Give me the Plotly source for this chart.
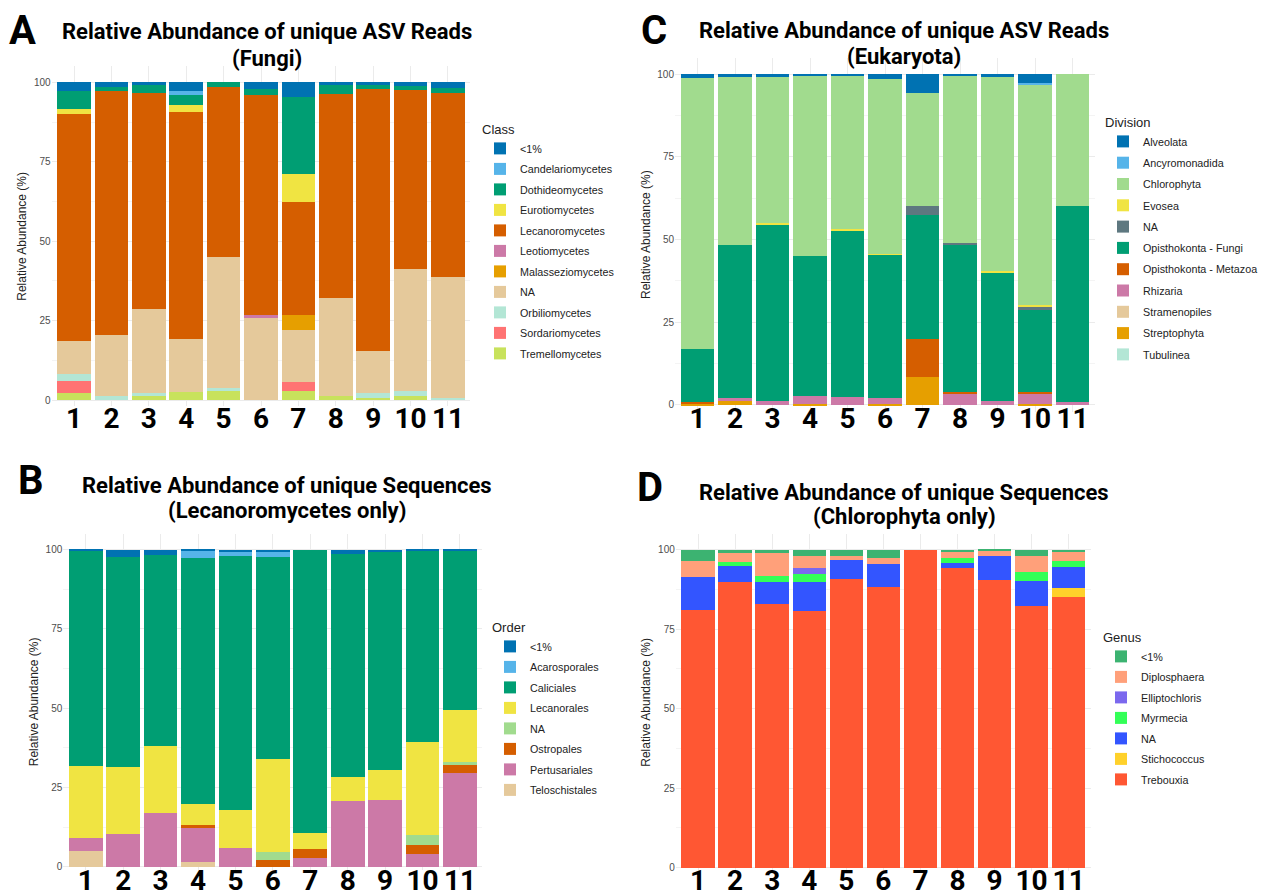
import plotly.graph_objects as go

W, H = 1261, 893
samples = [str(i) for i in range(1, 12)]

# ---------------- Panel A: Fungi, Class ----------------
A_classes = ["<1%", "Candelariomycetes", "Dothideomycetes", "Eurotiomycetes", "Lecanoromycetes",
             "Leotiomycetes", "Malasseziomycetes", "NA", "Orbiliomycetes", "Sordariomycetes", "Tremellomycetes"]
A_lt1 = [2.8, 1.4, 0.8, 2.6, 0, 2.2, 4.5, 0.8, 0.8, 1.1, 1.8]
A_candelario = [0, 0, 0, 1.4, 0, 0, 0, 0, 0, 0, 0]
A_dothideo = [5.7, 1.4, 2.7, 3.3, 1.6, 1.8, 24.4, 2.9, 1.3, 1.2, 1.7]
A_euro = [1.5, 0, 0, 2.2, 0, 0, 8.7, 0, 0, 0, 0]
A_lecanoro = [71.5, 76.7, 68.0, 71.2, 53.5, 69.2, 35.6, 64.2, 82.6, 56.4, 57.7]
A_leotio = [0, 0, 0, 0, 0, 1.1, 0, 0, 0, 0, 0]
A_malass = [0, 0, 0, 0, 0, 0, 4.8, 0, 0, 0, 0]
A_na = [10.3, 19.2, 26.4, 16.7, 41.2, 25.7, 16.3, 30.8, 13.1, 38.5, 38.0]
A_orbil = [2.2, 1.3, 0.8, 0, 0.9, 0, 0, 0, 1.4, 1.5, 0.8]
A_sordario = [3.9, 0, 0, 0, 0, 0, 2.9, 0, 0, 0, 0]
A_tremello = [2.1, 0, 1.3, 2.6, 2.8, 0, 2.8, 1.3, 0.8, 1.3, 0]
A_colors = ["#0072B2", "#56B4E9", "#009E73", "#F0E442", "#D55E00", "#CC79A7",
            "#E69F00", "#E5C99B", "#B3E6D5", "#FF7373", "#C8E25C"]
A_values = [A_lt1, A_candelario, A_dothideo, A_euro, A_lecanoro, A_leotio,
            A_malass, A_na, A_orbil, A_sordario, A_tremello]

# ---------------- Panel B: Lecanoromycetes, Order ----------------
B_orders = ["<1%", "Acarosporales", "Caliciales", "Lecanorales", "NA", "Ostropales", "Pertusariales", "Teloschistales"]
B_lt1 = [0.3, 2.4, 1.6, 0.3, 0.8, 0.8, 0, 1.3, 0.7, 0.2, 0.2]
B_acaro = [0, 0, 0, 2.4, 1.3, 1.6, 0, 0, 0, 0, 0]
B_calic = [67.9, 66.2, 60.3, 77.6, 79.9, 63.7, 89.2, 70.4, 68.8, 60.3, 50.2]
B_lecanorales = [22.7, 21.0, 21.2, 6.4, 12.0, 29.3, 5.2, 7.5, 9.4, 29.6, 16.5]
B_na = [0, 0, 0, 0, 0, 2.5, 0, 0, 0, 3.1, 1.0]
B_ostro = [0, 0, 0, 1.2, 0, 2.1, 2.9, 0, 0, 2.8, 2.4]
B_pertus = [4.2, 10.4, 16.9, 10.6, 6.0, 0, 2.7, 20.8, 21.1, 4.0, 29.7]
B_telo = [4.9, 0, 0, 1.5, 0, 0, 0, 0, 0, 0, 0]
B_colors = ["#0072B2", "#56B4E9", "#009E73", "#F0E442", "#A1DB8E", "#D55E00", "#CC79A7", "#E5C99B"]
B_values = [B_lt1, B_acaro, B_calic, B_lecanorales, B_na, B_ostro, B_pertus, B_telo]

# ---------------- Panel C: Eukaryota, Division ----------------
C_divisions = ["Alveolata", "Ancyromonadida", "Chlorophyta", "Evosea", "NA", "Opisthokonta - Fungi",
               "Opisthokonta - Metazoa", "Rhizaria", "Stramenopiles", "Streptophyta", "Tubulinea"]
C_alveolata = [1.0, 0.6, 0.6, 0.3, 0.3, 1.5, 5.6, 0.3, 0.6, 2.7, 0]
C_ancyro = [0, 0, 0, 0, 0, 0, 0, 0, 0, 0.3, 0]
C_chloro = [82.1, 51.1, 44.4, 54.7, 46.6, 52.7, 34.3, 50.7, 59.0, 66.8, 39.9]
C_evosea = [0, 0, 0.3, 0, 0.3, 0.3, 0, 0, 0.3, 0.7, 0]
C_na = [0, 0, 0, 0, 0, 0, 2.8, 0.5, 0, 0.4, 0]
C_fungi = [16.1, 46.2, 53.4, 42.3, 50.4, 43.3, 37.5, 44.5, 38.8, 25.1, 59.1]
C_metazoa = [0.4, 0, 0, 0, 0, 0, 11.2, 0.7, 0, 0.3, 0]
C_rhizaria = [0, 1.0, 1.3, 2.4, 2.4, 1.9, 0, 3.3, 1.3, 3.4, 1.0]
C_stramen = [0, 0, 0, 0, 0, 0, 0, 0, 0, 0, 0]
C_strepto = [0.4, 1.1, 0, 0.3, 0, 0.3, 8.6, 0, 0, 0.3, 0]
C_tubulinea = [0, 0, 0, 0, 0, 0, 0, 0, 0, 0, 0]
C_colors = ["#0072B2", "#56B4E9", "#A1DB8E", "#F0E442", "#5E7880", "#009E73",
            "#D55E00", "#CC79A7", "#E5C99B", "#E69F00", "#B3E6D5"]
C_values = [C_alveolata, C_ancyro, C_chloro, C_evosea, C_na, C_fungi,
            C_metazoa, C_rhizaria, C_stramen, C_strepto, C_tubulinea]

# ---------------- Panel D: Chlorophyta, Genus ----------------
D_genera = ["<1%", "Diplosphaera", "Elliptochloris", "Myrmecia", "NA", "Stichococcus", "Trebouxia"]
D_lt1 = [3.7, 1.0, 1.0, 1.9, 1.9, 2.5, 0, 0.5, 0.3, 1.9, 0.8]
D_diplo = [5.0, 2.9, 7.3, 4.0, 1.4, 1.9, 0, 2.2, 1.6, 5.1, 2.8]
D_ellipt = [0, 0, 0, 1.7, 0, 0, 0, 0, 0, 0, 0]
D_myrm = [0, 1.1, 2.0, 2.5, 0, 0, 0, 1.4, 0, 2.7, 1.9]
D_na = [10.3, 5.3, 6.7, 9.1, 5.8, 7.2, 0, 1.5, 7.5, 7.9, 6.5]
D_stich = [0, 0, 0, 0, 0, 0, 0, 0, 0, 0, 2.8]
D_treb = [81.0, 89.7, 83.0, 80.8, 90.9, 88.4, 100, 94.4, 90.6, 82.4, 85.2]
D_colors = ["#3CB371", "#FFA07A", "#7B68EE", "#33FF57", "#3355FF", "#FFD12B", "#FF5733"]
D_values = [D_lt1, D_diplo, D_ellipt, D_myrm, D_na, D_stich, D_treb]

fig = go.Figure()

panels = [
    (A_classes, A_values, A_colors, "", "legend", "Class"),
    (B_orders, B_values, B_colors, "2", "legend2", "Order"),
    (C_divisions, C_values, C_colors, "3", "legend3", "Division"),
    (D_genera, D_values, D_colors, "4", "legend4", "Genus"),
]

for names, values, colors, sfx, leg, _t in panels:
    n = len(names)
    # ggplot stacks the first level on top -> add in reverse order
    for i in range(n - 1, -1, -1):
        fig.add_trace(go.Bar(
            x=samples, y=values[i], name=names[i],
            marker=dict(color=colors[i], line=dict(width=0)),
            xaxis="x" + sfx, yaxis="y" + sfx,
            legend=leg, legendgroup=leg + "_" + names[i], legendrank=i + 1,
            showlegend=True,
        ))


def px(xp):
    return xp / W


def py(yp):
    return 1 - yp / H


# axis domains (pixel based)
dom = {
    "": dict(x=(51.6, 470.4), y=(406.4, 66.4), yr=[-2, 105], so=-7),
    "2": dict(x=(63.3, 482.4), y=(869.9, 533.9), yr=[-1, 105], so=-9),
    "3": dict(x=(675.0, 1095.0), y=(411.6, 57.7), yr=[-2, 105], so=-13),
    "4": dict(x=(675.8, 1090.9), y=(870.9, 533.8), yr=[-1, 105], so=-10),
}

grid = "#EBEBEB"
layout = dict(
    width=W, height=H, margin=dict(l=0, r=0, t=0, b=0, autoexpand=False),
    paper_bgcolor="white", plot_bgcolor="white",
    barmode="stack", bargap=0.1,
    font=dict(family="Liberation Sans, Arial, sans-serif", color="#222222"),
)
for sfx, d in dom.items():
    layout["xaxis" + sfx] = dict(
        domain=[px(d["x"][0]), px(d["x"][1])], anchor="y" + sfx,
        type="category", range=[-0.6, 10.6], showgrid=True, gridcolor=grid,
        gridwidth=1, zeroline=False, showline=False, ticks="",
        ticklabelstandoff=d["so"],
        tickfont=dict(family="Roboto", size=28, weight="bold", color="black"),
        fixedrange=True,
    )
    layout["yaxis" + sfx] = dict(
        domain=[py(d["y"][0]), py(d["y"][1])], anchor="x" + sfx,
        range=d["yr"], tickvals=[0, 25, 50, 75, 100], showgrid=True, gridcolor=grid,
        zeroline=False, showline=False, ticks="",
        minor=dict(tickvals=[12.5, 37.5, 62.5, 87.5], showgrid=True, gridcolor="#F4F4F4"),
        tickfont=dict(size=10, color="#4D4D4D"),
        title=dict(text="Relative Abundance (%)", font=dict(size=12, color="#222222"), standoff=4),
        fixedrange=True,
    )

legend_pos = {
    "legend": (480, 117, 1.5),
    "legend2": (490, 615, 1.5),
    "legend3": (1103, 110, 2.3),
    "legend4": (1101, 625, 1.5),
}
for _n, _v, _c, sfx, leg, title in panels:
    lx, ly, gap = legend_pos[leg]
    layout[leg] = dict(
        x=px(lx), y=py(ly), xanchor="left", yanchor="top",
        title=dict(text=title, font=dict(size=13, color="#222222")),
        font=dict(size=10.75, color="#222222"),
        bgcolor="rgba(0,0,0,0)", traceorder="grouped", tracegroupgap=gap,
        itemclick=False, itemdoubleclick=False,
    )

fig.update_layout(**layout)

title_font = dict(family="Roboto", size=22, color="black", weight="bold")
letter_font = dict(family="Roboto", size=40, color="black", weight="bold")
annots = [
    ("Relative Abundance of unique ASV Reads", 267, 31, title_font),
    ("(Fungi)", 267, 58, title_font),
    ("Relative Abundance of unique Sequences", 287, 485, title_font),
    ("(Lecanoromycetes only)", 287, 510, title_font),
    ("Relative Abundance of unique ASV Reads", 904, 30, title_font),
    ("(Eukaryota)", 904, 57, title_font),
    ("Relative Abundance of unique Sequences", 904, 492, title_font),
    ("(Chlorophyta only)", 904, 516, title_font),
    ("A", 22, 30, letter_font),
    ("B", 31, 480, letter_font),
    ("C", 654, 30, letter_font),
    ("D", 650, 487, letter_font),
]
for text, x, y, f in annots:
    fig.add_annotation(text=text, x=px(x), y=py(y), xref="paper", yref="paper",
                       xanchor="center", yanchor="middle", showarrow=False, font=f)

fig.write_html(
    "out.html",
    config={"displayModeBar": False},
    post_script=(
        "document.documentElement.style.margin='0';"
        "document.body.style.margin='0';document.body.style.padding='0';"
        "document.documentElement.style.overflow='hidden';document.body.style.overflow='hidden';"
    ),
)
